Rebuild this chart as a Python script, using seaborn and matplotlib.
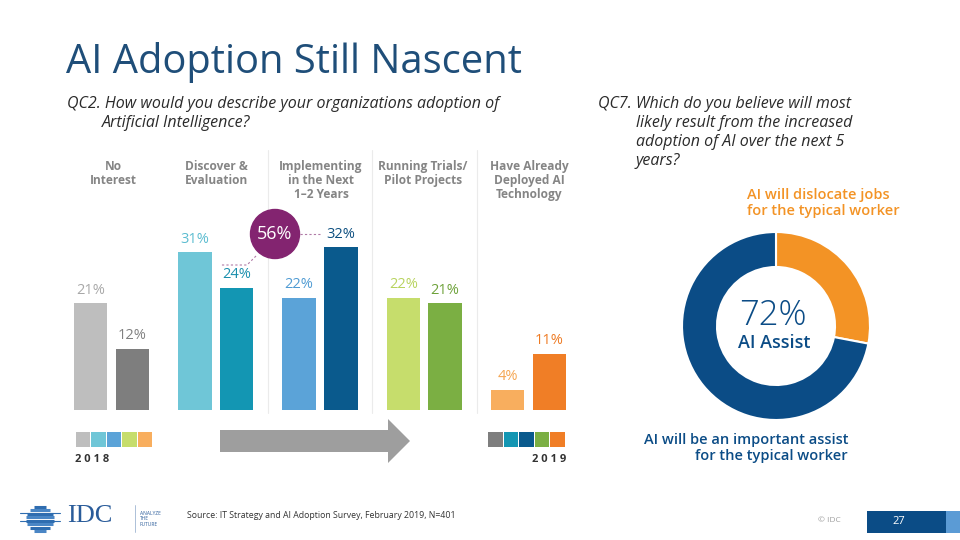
import numpy as np
import pandas as pd
import matplotlib
matplotlib.use("Agg")
import matplotlib.pyplot as plt
import seaborn as sns
from matplotlib.patches import Rectangle, Circle, Polygon

# ---------------- data ----------------
stages = ["No\nInterest", "Discover &\nEvaluation", "Implementing\nin the Next\n1\u20132 Years",
          "Running Trials/\nPilot Projects", "Have Already\nDeployed AI\nTechnology"]
years = ["2018", "2019"]
values_2018 = [21, 31, 22, 22, 4]
values_2019 = [12, 24, 32, 21, 11]
colors_2018 = ["#BEBEBE", "#6FC6D7", "#5BA3D8", "#C6DD6C", "#F8AE5E"]
colors_2019 = ["#7E7E7E", "#1396B3", "#0A5A8D", "#7BAF43", "#F07E26"]
label_colors_2018 = ["#A8A8A8", "#5BBCD0", "#4F9BD3", "#B8D35E", "#F5A652"]
label_colors_2019 = ["#808080", "#1A8FAD", "#0D4F80", "#6EA23A", "#EE7A22"]
highlight_value = "56%"

donut_labels = ["AI will dislocate jobs\nfor the typical worker",
                "AI will be an important assist\nfor the typical worker"]
donut_values = [28, 72]
donut_colors = ["#F39325", "#0B4C86"]

df = pd.DataFrame({
    "stage": stages * 2,
    "year": [years[0]] * 5 + [years[1]] * 5,
    "value": values_2018 + values_2019,
})

# ---------------- figure ----------------
sns.set_theme(style="white")
plt.rcParams["font.family"] = ["Open Sans", "DejaVu Sans"]
fig = plt.figure(figsize=(9.6, 5.4), dpi=100)
fig.patch.set_facecolor("white")

W, H = 960, 540
def fx(px):
    return px / W
def fy(py):
    return 1 - py / H

# bar axes: baseline at y=410 px, top at y=160 px; x from 59.4 to 580.6
ax = fig.add_axes([fx(59.4), fy(410), fx(521.2), (250) / H])
sns.barplot(data=df, x="stage", y="value", hue="year", width=0.8, gap=0.2,
            palette=["#BEBEBE", "#7E7E7E"], legend=False, ax=ax, saturation=1)
for i, cont in enumerate(ax.containers):
    cols = colors_2018 if i == 0 else colors_2019
    lcols = label_colors_2018 if i == 0 else label_colors_2019
    for p, c in zip(cont, cols):
        p.set_facecolor(c)
        p.set_edgecolor("none")
    texts = ax.bar_label(cont, labels=[f"{v:.0f}%" for v in cont.datavalues],
                         padding=4, fontsize=10.5)
    for t, c in zip(texts, lcols):
        t.set_color(c)
ax.set_xlim(-0.5, 4.5)
ax.set_ylim(0, 49.1)
ax.axis("off")

# overlay axes in pixel coordinates
ov = fig.add_axes([0, 0, 1, 1])
ov.set_xlim(0, W)
ov.set_ylim(H, 0)
ov.axis("off")

# title
ov.text(66, 73, "AI Adoption Still Nascent", fontsize=28.7, color="#1F4E79", va="baseline", ha="left")

# question texts
qkw = dict(fontsize=11.5, style="italic", color="#2B2B2B", va="center", ha="left")
ov.text(67, 104, "QC2. How would you describe your organizations adoption of", **qkw)
ov.text(102, 123, "Artificial Intelligence?", **qkw)
ov.text(598, 104, "QC7. Which do you believe will most", **qkw)
ov.text(636, 123, "likely result from the increased", **qkw)
ov.text(636, 142, "adoption of AI over the next 5", **qkw)
ov.text(636, 161, "years?", **qkw)

# column headers
header_x = [113, 216, 321, 423, 529]
for x, s in zip(header_x, stages):
    ov.text(x, 160, s, ha="center", va="top", fontsize=8.6, fontweight="bold",
            color="#858585", linespacing=1.1)

# separators
for x in [268, 372, 477]:
    ov.plot([x, x], [150, 413], color="#EBEBEB", lw=0.8)

# 56% highlight
ov.add_patch(Circle((275, 234), 24.5, color="#832470", zorder=5))
ov.text(275, 234, highlight_value, color="white", fontsize=13, ha="center", va="center", zorder=6)
ov.plot([300, 322], [234, 234], color="#B07AA6", lw=0.8, ls=(0, (2, 2)))
ov.plot([256, 247, 220], [256, 265, 265], color="#B07AA6", lw=0.8, ls=(0, (2, 2)))

# legend squares
x0 = 75.5
for c in colors_2018:
    ov.add_patch(Rectangle((x0, 432), 14.5, 14.5, color=c, lw=0))
    x0 += 15.6
x0 = 488
for c in colors_2019:
    ov.add_patch(Rectangle((x0, 432), 14.5, 14.5, color=c, lw=0))
    x0 += 15.5
ov.text(75, 459, "2 0 1 8", fontsize=8, fontweight="bold", color="#333333", ha="left", va="center")
ov.text(566, 459, "2 0 1 9", fontsize=8, fontweight="bold", color="#333333", ha="right", va="center")

# arrow
ov.add_patch(Polygon([(220, 430), (388, 430), (388, 419), (410, 441), (388, 463), (388, 452), (220, 452)],
                     closed=True, color="#9E9E9E", lw=0))

# donut
dax = fig.add_axes([fx(676), fy(426), fx(200), 200 / H])
dax.pie(donut_values, colors=donut_colors, startangle=90, counterclock=False, radius=0.94,
        wedgeprops=dict(width=0.35, edgecolor="white", linewidth=1.5))
dax.set_xlim(-1, 1)
dax.set_ylim(-1, 1)
dax.set_aspect("equal")
dax.axis("off")

ov.text(773, 316, f"{donut_values[1]}%", fontsize=25, color=donut_colors[1], ha="center", va="center",
        fontweight="light")
ov.text(774, 343, "AI Assist", fontsize=13, color=donut_colors[1], ha="center", va="center",
        fontweight="semibold")
ov.text(747, 203, donut_labels[0], fontsize=10.5, color=donut_colors[0], ha="left", va="center",
        fontweight="semibold", linespacing=1.2)
ov.text(848, 448, donut_labels[1], fontsize=10.5, color=donut_colors[1], ha="right", va="center",
        fontweight="semibold", linespacing=1.2, multialignment="right")

# footer: logo
for i, (yy, hw) in enumerate(zip(np.linspace(507, 531, 8), [6, 10, 13, 14, 14, 13, 10, 6])):
    ov.plot([40 - hw, 40 + hw], [yy, yy], color="#4A86C5" if i % 2 else "#2F6DB0", lw=2.2,
            solid_capstyle="butt")
ov.plot([20, 60], [513, 513], color="#2F6DB0", lw=0.8)
ov.plot([20, 60], [521, 521], color="#2F6DB0", lw=0.8)
ov.text(67, 522, "IDC", fontsize=19, family="Liberation Serif", color="#2A5C9A", ha="left", va="baseline")
ov.plot([135, 135], [505, 532], color="#9FB5D2", lw=0.6)
ov.text(140, 519, "ANALYZE\nTHE\nFUTURE", fontsize=3.5, color="#2A5C9A", ha="left", va="center", linespacing=1.1)
ov.text(187, 515, "Source: IT Strategy and AI Adoption Survey, February 2019, N=401",
        fontsize=6.3, color="#333333", ha="left", va="center")
ov.text(818, 521, "\u00a9 IDC", fontsize=6, color="#A0A0A0", ha="left", va="center")
ov.add_patch(Rectangle((867, 511), 79, 22, color="#0B4C86", lw=0))
ov.add_patch(Rectangle((946, 511), 14, 22, color="#5B9BD5", lw=0))
ov.text(899, 521, "27", fontsize=8, color="white", ha="center", va="center")

fig.savefig("out.png", dpi=100)
